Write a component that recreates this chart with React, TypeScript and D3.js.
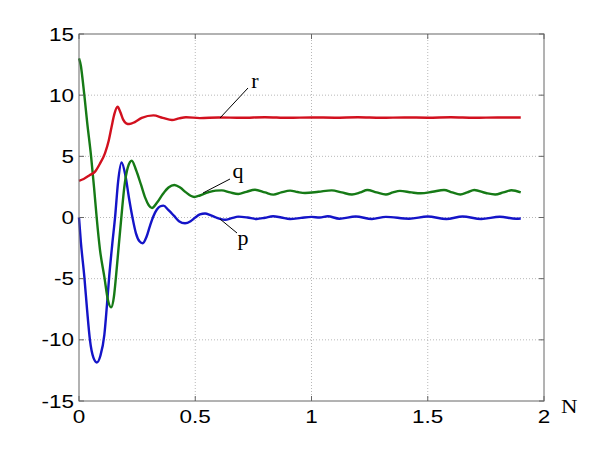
import React from "react";
import * as d3 from "d3";

// ---- data ----
const xTicks = [0, 0.5, 1, 1.5, 2];
const xTickLabels = ["0", "0.5", "1", "1.5", "2"];
const yTicks = [-15, -10, -5, 0, 5, 10, 15];
const yTickLabels = ["-15", "-10", "-5", "0", "5", "10", "15"];

const pN = [0, 0.008, 0.023, 0.035, 0.047, 0.062, 0.077, 0.092, 0.109, 0.12, 0.13, 0.143, 0.156, 0.168, 0.183, 0.2, 0.215, 0.23, 0.245, 0.26, 0.274, 0.29, 0.305, 0.32, 0.335, 0.35, 0.363, 0.385, 0.408, 0.43, 0.456, 0.48, 0.5, 0.52, 0.542, 0.565, 0.59, 0.61, 0.628, 0.657, 0.685, 0.725, 0.764, 0.8, 0.835, 0.87, 0.908, 0.955, 1.0, 1.035, 1.07, 1.12, 1.19, 1.26, 1.32, 1.42, 1.5, 1.58, 1.65, 1.73, 1.81, 1.88, 1.9];
const pV = [0, -2.0, -4.85, -7.6, -10.0, -11.45, -11.85, -11.3, -9.6, -7.2, -4.8, -2.2, 0.2, 2.9, 4.5, 3.4, 1.6, 0.0, -1.3, -1.95, -2.11, -1.6, -0.7, 0.1, 0.65, 0.92, 0.97, 0.6, 0.15, -0.3, -0.47, -0.3, 0.0, 0.25, 0.33, 0.2, 0.0, -0.13, -0.18, -0.05, 0.07, 0.0, -0.12, -0.02, 0.1, 0.0, -0.12, -0.03, 0.05, 0.0, 0.1, -0.1, 0.08, -0.12, 0.05, -0.1, 0.08, -0.12, 0.08, -0.12, 0.06, -0.1, -0.08];

const qN = [0, 0.008, 0.016, 0.023, 0.035, 0.052, 0.065, 0.076, 0.09, 0.109, 0.124, 0.138, 0.15, 0.159, 0.171, 0.183, 0.195, 0.21, 0.227, 0.245, 0.267, 0.285, 0.3, 0.314, 0.335, 0.36, 0.385, 0.41, 0.435, 0.46, 0.48, 0.496, 0.52, 0.555, 0.588, 0.614, 0.65, 0.685, 0.72, 0.757, 0.8, 0.836, 0.87, 0.908, 0.94, 0.972, 1.03, 1.087, 1.13, 1.174, 1.21, 1.24, 1.28, 1.32, 1.35, 1.38, 1.43, 1.47, 1.52, 1.57, 1.605, 1.64, 1.67, 1.7, 1.75, 1.79, 1.825, 1.86, 1.9];
const qV = [13.0, 12.4, 11.2, 10.0, 7.8, 5.0, 2.4, 0.0, -2.6, -4.85, -6.7, -7.35, -6.5, -4.85, -2.3, 0.2, 2.5, 4.1, 4.64, 3.9, 2.66, 1.6, 1.0, 0.78, 1.2, 1.9, 2.45, 2.66, 2.45, 2.05, 1.78, 1.68, 1.8, 2.05, 2.2, 2.22, 2.05, 1.92, 2.1, 2.27, 2.05, 1.87, 2.05, 2.2, 2.08, 2.0, 2.1, 2.22, 2.05, 1.88, 2.05, 2.25, 2.05, 1.88, 2.05, 2.18, 2.05, 1.98, 2.1, 2.25, 2.05, 1.88, 2.05, 2.25, 2.0, 1.88, 2.05, 2.23, 2.05];

const rN = [0, 0.02, 0.047, 0.069, 0.09, 0.112, 0.128, 0.14, 0.152, 0.166, 0.178, 0.19, 0.203, 0.216, 0.24, 0.27, 0.32, 0.36, 0.4, 0.43, 0.46, 0.52, 0.6, 0.7, 0.8, 0.9, 1.0, 1.1, 1.2, 1.3, 1.4, 1.5, 1.6, 1.7, 1.8, 1.9];
const rV = [3.0, 3.15, 3.47, 3.75, 4.4, 5.27, 6.3, 7.4, 8.45, 9.05, 8.6, 8.0, 7.7, 7.64, 7.8, 8.15, 8.35, 8.15, 7.97, 8.1, 8.2, 8.12, 8.18, 8.15, 8.2, 8.15, 8.18, 8.16, 8.19, 8.15, 8.18, 8.16, 8.19, 8.15, 8.18, 8.17];

const seriesNames = ["p", "q", "r"];
const seriesColors = ["#1414c8", "#167a16", "#d2101e"];

const W = 602;
const H = 451;
const margin = { left: 79, top: 34, right: 58, bottom: 50 };

export default function App() {
  const x = d3.scaleLinear().domain([0, 2]).range([margin.left, W - margin.right]);
  const y = d3.scaleLinear().domain([-15, 15]).range([H - margin.bottom, margin.top]);
  const line = d3
    .line<[number, number]>()
    .x((d) => x(d[0]))
    .y((d) => y(d[1]))
    .curve(d3.curveMonotoneX);

  const series = [
    pN.map((n, i) => [n, pV[i]] as [number, number]),
    qN.map((n, i) => [n, qV[i]] as [number, number]),
    rN.map((n, i) => [n, rV[i]] as [number, number]),
  ];

  const x0 = x(0), x1 = x(2), y0 = y(-15), y1 = y(15);
  const tickFont = "'Liberation Sans', Arial, sans-serif";
  const serif = "'Liberation Serif', 'Times New Roman', serif";
  const axisColor = "#666";
  const gridColor = "#b8b8b8";
  const sx = 1.25;

  return (
    <svg width={W} height={H} style={{ position: "absolute", left: 0, top: 0, background: "#fff" }}>
      <rect x={0} y={0} width={W} height={H} fill="#fff" />
      {/* grid */}
      {xTicks.slice(1, -1).map((t) => (
        <line key={"gx" + t} x1={x(t)} x2={x(t)} y1={y1} y2={y0} stroke={gridColor} strokeWidth={1} strokeDasharray="1,2" />
      ))}
      {yTicks.slice(1, -1).map((t) => (
        <line key={"gy" + t} x1={x0} x2={x1} y1={y(t)} y2={y(t)} stroke={gridColor} strokeWidth={1} strokeDasharray="1,2" />
      ))}
      {/* curves */}
      {series.map((s, i) => (
        <path key={seriesNames[i]} d={line(s) || ""} fill="none" stroke={seriesColors[i]} strokeWidth={2.4} strokeLinejoin="round" />
      ))}
      {/* axes box */}
      <rect x={x0} y={y1} width={x1 - x0} height={y0 - y1} fill="none" stroke={axisColor} strokeWidth={1} />
      {/* ticks */}
      {xTicks.map((t) => (
        <g key={"tx" + t}>
          <line x1={x(t)} x2={x(t)} y1={y0} y2={y0 - 5} stroke={axisColor} />
          <line x1={x(t)} x2={x(t)} y1={y1} y2={y1 + 5} stroke={axisColor} />
        </g>
      ))}
      {yTicks.map((t) => (
        <g key={"ty" + t}>
          <line x1={x0} x2={x0 + 5} y1={y(t)} y2={y(t)} stroke={axisColor} />
          <line x1={x1} x2={x1 - 5} y1={y(t)} y2={y(t)} stroke={axisColor} />
        </g>
      ))}
      {/* tick labels */}
      {xTicks.map((t, i) => (
        <text key={"lx" + t} transform={`translate(${x(t)},${y0 + 22}) scale(${sx},1)`} textAnchor="middle" fontFamily={tickFont} fontSize={18} fill="#000">
          {xTickLabels[i]}
        </text>
      ))}
      {yTicks.map((t, i) => (
        <text key={"ly" + t} transform={`translate(${x0 - 5},${y(t) + 6.5}) scale(${sx},1)`} textAnchor="end" fontFamily={tickFont} fontSize={18} fill="#000">
          {yTickLabels[i]}
        </text>
      ))}
      {/* axis label */}
      <text transform={`translate(561,413) scale(1.2,1)`} fontFamily={serif} fontSize={19} fill="#000">N</text>
      {/* curve labels with leaders */}
      <line x1={220} y1={118} x2={248} y2={88} stroke="#000" strokeWidth={1} />
      <text x={255} y={88} textAnchor="middle" fontFamily={serif} fontSize={22} fill="#000">r</text>
      <line x1={203} y1={193} x2={230} y2={179} stroke="#000" strokeWidth={1} />
      <text x={238} y={178} textAnchor="middle" fontFamily={serif} fontSize={22} fill="#000">q</text>
      <line x1={220} y1={219} x2={237} y2={233} stroke="#000" strokeWidth={1} />
      <text x={243} y={245} textAnchor="middle" fontFamily={serif} fontSize={22} fill="#000">p</text>
    </svg>
  );
}
